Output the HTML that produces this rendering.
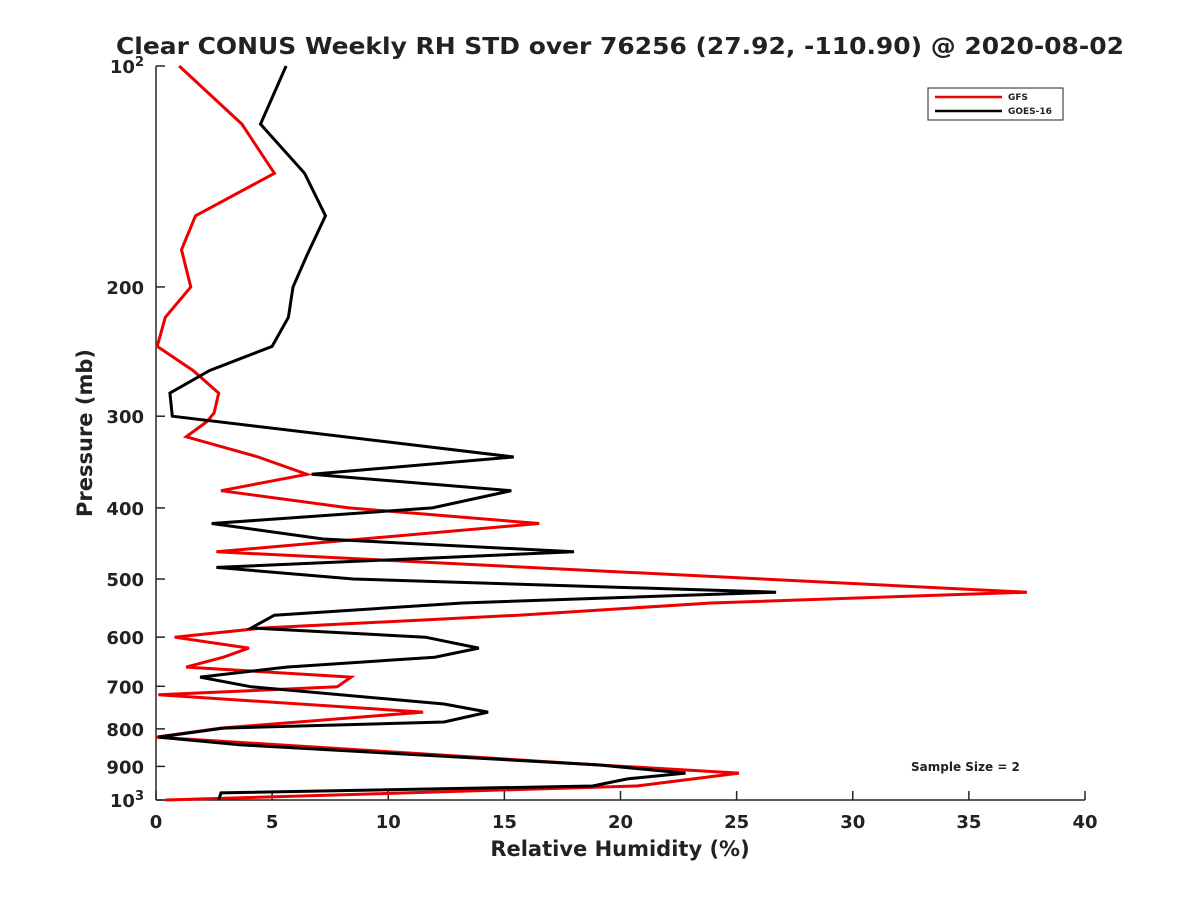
<!DOCTYPE html>
<html><head><meta charset="utf-8"><style>
body{margin:0;background:#fff}
svg text{font-family:"DejaVu Sans","Liberation Sans",sans-serif;font-weight:bold;fill:#222}
</style></head><body>
<svg id="chart" width="1200" height="900" viewBox="0 0 1200 900" xmlns="http://www.w3.org/2000/svg">
<rect width="1200" height="900" fill="#fff"/>
<text x="620" y="54" font-size="23" text-anchor="middle" textLength="1008" lengthAdjust="spacingAndGlyphs">Clear CONUS Weekly RH STD over 76256 (27.92, -110.90) @ 2020-08-02</text>
<g id="axes"></g>
<g id="series"></g>
<g>
<rect x="928" y="88" width="135" height="32" fill="#fff" stroke="#222" stroke-width="1"/>
<line x1="935" y1="97" x2="1002" y2="97" stroke="#e00" stroke-width="2.5"/>
<text x="1008" y="100" font-size="9">GFS</text>
<line x1="935" y1="111" x2="1002" y2="111" stroke="#000" stroke-width="2.5"/>
<text x="1008" y="114" font-size="9">GOES-16</text>
</g>
<text x="911" y="771" font-size="12">Sample Size = 2</text>
<text x="620" y="856" font-size="21" text-anchor="middle">Relative Humidity (%)</text>
<text transform="translate(92,433) rotate(-90)" font-size="21" text-anchor="middle">Pressure (mb)</text>
</svg>
<script>
const xTicks=[0,5,10,15,20,25,30,35,40];
const yTicks=[100,200,300,400,500,600,700,800,900,1000];
const yTickLabels=["10|2","200","300","400","500","600","700","800","900","10|3"];
const goesP=[100,120,140,160,181,200,220,241,260,279,300,341,360,379,400,420,441,459,482,500,521,539,560,583,600,621,639,659,680,701,740,759,783,798,821,841,896,919,936,957,978,1000];
const goesRH=[5.6,4.5,6.4,7.3,6.5,5.9,5.7,5.0,2.3,0.6,0.7,15.4,6.7,15.3,11.9,2.4,7.2,18.0,2.6,8.5,26.7,13.2,5.1,4.1,11.6,13.9,12.0,5.6,1.9,4.1,12.4,14.3,12.4,2.9,0.1,3.6,19.1,22.8,20.3,18.8,2.8,2.7];
const gfsP=[100,120,140,160,178,200,220,241,260,279,297,305,320,341,360,379,400,420,459,521,539,560,583,600,621,639,659,680,701,719,759,798,821,896,919,957,1000];
const gfsRH=[1.0,3.7,5.1,1.7,1.1,1.5,0.4,0.05,1.6,2.7,2.5,2.2,1.3,4.4,6.5,2.8,8.3,16.5,2.6,37.5,23.9,15.6,4.6,0.8,4.0,2.9,1.3,8.4,7.8,0.1,11.5,2.8,0,19.1,25.1,20.7,0.4];
const X0=156,X1=1085,Y0=66,Y1=800;
const xs=v=>X0+(v-0)/(40-0)*(X1-X0);
const ys=p=>Y0+(Math.log10(p)-2)*(Y1-Y0);
const NS="http://www.w3.org/2000/svg";
function mk(t,a,parent){const e=document.createElementNS(NS,t);for(const k in a)e.setAttribute(k,a[k]);parent.appendChild(e);return e;}
const axes=document.getElementById('axes');
const yl=mk('line',{x1:X0,y1:Y0,x2:X0,y2:Y1,stroke:'#262626','stroke-width':1.5},axes);


const xl=mk('line',{x1:X0,y1:Y1,x2:X1,y2:Y1,stroke:'#262626','stroke-width':1.5},axes);


xTicks.forEach(v=>{
  mk('line',{x1:xs(v),y1:Y1,x2:xs(v),y2:Y1-9,stroke:'#262626','stroke-width':1.5},axes);
  const t=mk('text',{x:xs(v),y:Y1+28,'font-size':18,'text-anchor':'middle'},axes);
  t.textContent=v;
  
  
});
yTicks.forEach((p,i)=>{
  mk('line',{x1:X0,y1:ys(p),x2:X0+9,y2:ys(p),stroke:'#262626','stroke-width':1.5},axes);
  const lab=yTickLabels[i];
  if(lab.includes('|')){
    const [b,s]=lab.split('|');
    const t=mk('text',{x:X0-12,y:ys(p)+7,'font-size':18,'text-anchor':'end'},axes);
    
    
    const t1=mk('tspan',{},t);t1.textContent=b;
    const t2=mk('tspan',{dy:-7,'font-size':13},t);t2.textContent=s;
  } else {
    const t=mk('text',{x:X0-12,y:ys(p)+7,'font-size':18,'text-anchor':'end'},axes);
    t.textContent=lab;
    
    
  }
});
const ser=document.getElementById('series');
function line(P,V,color,name){
  const d=P.map((p,i)=>(i?'L':'M')+xs(V[i]).toFixed(1)+','+ys(p).toFixed(1)).join('');
  const e=mk('path',{d:d,fill:'none',stroke:color,'stroke-width':3,'stroke-linejoin':'miter'},ser);
  
  
}
line(gfsP,gfsRH,'#e00','gfs-line');
line(goesP,goesRH,'#000','goes16-line');
</script>
</body></html>
